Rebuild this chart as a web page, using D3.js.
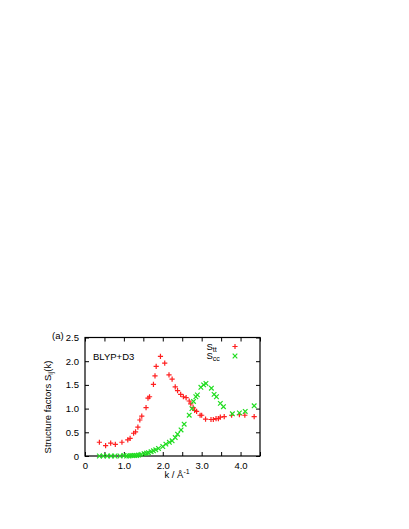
<!DOCTYPE html>
<html>
<head>
<meta charset="utf-8">
<script src="https://cdn.jsdelivr.net/npm/d3@7"></script>
<style>
  body { margin: 0; background: #fff; }
  svg text { font-family: "Liberation Sans", Arial, Helvetica, sans-serif; fill: #000; }
</style>
</head>
<body>
<div id="chart"></div>
<script>
// S_tt (red +) and S_cc (green x)
const kTT = [0.37, 0.53, 0.66, 0.78, 0.95, 1.10, 1.16, 1.25, 1.30, 1.36, 1.41, 1.46, 1.57, 1.62, 1.66,
    1.76, 1.80, 1.83, 1.94, 2.05, 2.16, 2.24, 2.32, 2.38, 2.46, 2.53, 2.60, 2.68, 2.72, 2.78, 2.82,
    2.87, 2.96, 3.00, 3.10, 3.24, 3.30, 3.37, 3.43, 3.48, 3.58, 3.77, 3.97, 4.11, 4.35];
const sTT = [0.29, 0.22, 0.27, 0.245, 0.29, 0.34, 0.37, 0.48, 0.51, 0.61, 0.76, 0.84, 1.02, 1.22, 1.25,
    1.51, 1.69, 1.89, 2.10, 1.96, 1.71, 1.62, 1.46, 1.38, 1.30, 1.25, 1.23, 1.16, 1.10, 1.02, 0.96,
    0.94, 0.86, 0.86, 0.78, 0.77, 0.77, 0.79, 0.79, 0.82, 0.83, 0.86, 0.87, 0.86, 0.83];

const kCC = [0.37, 0.47, 0.57, 0.67, 0.77, 0.90, 1.00, 1.07, 1.13, 1.18, 1.23, 1.28, 1.33, 1.38, 1.44,
    1.52, 1.58, 1.63, 1.70, 1.76, 1.82, 1.89, 2.00, 2.08, 2.17, 2.24, 2.32, 2.38, 2.47, 2.55, 2.68,
    2.75, 2.79, 2.85, 2.89, 2.98, 3.05, 3.11, 3.25, 3.32, 3.38, 3.48, 3.56, 3.79, 3.97, 4.12, 4.35];
const sCC = [0.00, 0.00, 0.00, 0.00, 0.00, 0.00, 0.01, 0.00, 0.00, 0.01, 0.01, 0.01, 0.01, 0.02, 0.03,
    0.05, 0.06, 0.07, 0.09, 0.11, 0.13, 0.16, 0.20, 0.25, 0.29, 0.32, 0.39, 0.46, 0.55, 0.67, 0.86,
    1.00, 1.15, 1.25, 1.29, 1.45, 1.50, 1.53, 1.43, 1.30, 1.25, 1.11, 1.04, 0.89, 0.91, 0.94, 1.06];

const xTicks = [0, 0.5, 1, 1.5, 2, 2.5, 3, 3.5, 4, 4.5];
const xTickLabels = ["0", "", "1.0", "", "2.0", "", "3.0", "", "4.0", ""];
const yTicks = [0, 0.5, 1, 1.5, 2, 2.5];
const yTickLabels = ["0", "0.5", "1.0", "1.5", "2.0", "2.5"];

const margin = {top: 337.5, right: 149, bottom: 73, left: 85},
    width = 409 - margin.left - margin.right,
    height = 529 - margin.top - margin.bottom;

const red = "#ff2020", green = "#20dd20";

const svg = d3.select("#chart")
    .append("svg")
    .attr("width", 409)
    .attr("height", 529);

const g = svg.append("g")
    .attr("transform", "translate(" + margin.left + "," + margin.top + ")");

const x = d3.scaleLinear().domain([0, 4.5]).range([0, width]);
const y = d3.scaleLinear().domain([0, 2.5]).range([height, 0]);

function styleAxis(sel) {
    sel.select(".domain").remove();
    sel.selectAll(".tick line").attr("stroke", "#000");
    sel.selectAll("text").style("font-size", "9.5px");
}

// bottom / top ticks point inward
g.append("g")
    .attr("transform", "translate(0," + height + ")")
    .call(d3.axisBottom(x).tickValues(xTicks).tickSize(-4).tickPadding(6)
        .tickFormat((d, i) => xTickLabels[i]))
    .call(styleAxis);
g.append("g")
    .call(d3.axisTop(x).tickValues(xTicks).tickSize(-4).tickFormat(""))
    .call(styleAxis);

g.append("g")
    .call(d3.axisLeft(y).tickValues(yTicks).tickSize(-4).tickPadding(6)
        .tickFormat((d, i) => yTickLabels[i]))
    .call(styleAxis);
g.append("g")
    .attr("transform", "translate(" + width + ",0)")
    .call(d3.axisRight(y).tickValues(yTicks).tickSize(-4).tickFormat(""))
    .call(styleAxis);

g.append("rect")
    .attr("width", width)
    .attr("height", height)
    .attr("fill", "none")
    .attr("stroke", "#000")
    .attr("stroke-width", 1.2);

const plus = "M-2.6,0H2.6M0,-2.6V2.6";
const cross = "M-2.3,-2.3L2.3,2.3M-2.3,2.3L2.3,-2.3";

g.selectAll(".ptt")
    .data(kTT.map((k, i) => ({k: k, s: sTT[i]})))
    .enter().append("path")
    .attr("class", "ptt")
    .attr("d", plus)
    .attr("transform", d => "translate(" + x(d.k) + "," + y(d.s) + ")")
    .attr("stroke", red)
    .attr("stroke-width", 1.2)
    .attr("fill", "none");

g.selectAll(".pcc")
    .data(kCC.map((k, i) => ({k: k, s: sCC[i]})))
    .enter().append("path")
    .attr("class", "pcc")
    .attr("d", cross)
    .attr("transform", d => "translate(" + x(d.k) + "," + y(d.s) + ")")
    .attr("stroke", green)
    .attr("stroke-width", 1.2)
    .attr("fill", "none");

// labels
svg.append("text")
    .attr("x", 52).attr("y", 339)
    .style("font-size", "9.5px")
    .text("(a)");

svg.append("text")
    .attr("x", 93).attr("y", 360)
    .style("font-size", "9.5px")
    .text("BLYP+D3");

const ylab = svg.append("text")
    .attr("transform", "translate(51,407) rotate(-90)")
    .attr("text-anchor", "middle")
    .style("font-size", "9.5px");
ylab.append("tspan").text("Structure factors S");
ylab.append("tspan").attr("dy", 2).style("font-size", "7px").text("ij");
ylab.append("tspan").attr("dy", -2).text("(k)");

const xlab = svg.append("text")
    .attr("x", 177).attr("y", 477.5)
    .attr("text-anchor", "middle")
    .style("font-size", "9.5px");
xlab.append("tspan").text("k / Å");
xlab.append("tspan").attr("dy", -4).style("font-size", "7px").text("-1");

// legend
const legend = [
    {name: "S", sub: "tt", color: red, shape: plus, y: 349.5},
    {name: "S", sub: "cc", color: green, shape: cross, y: 359}
];
legend.forEach(function (d) {
    const t = svg.append("text")
        .attr("x", 206.5).attr("y", d.y)
        .style("font-size", "9.5px");
    t.append("tspan").text(d.name);
    t.append("tspan").attr("dy", 2).style("font-size", "7px").text(d.sub);
    svg.append("path")
        .attr("d", d.shape)
        .attr("transform", "translate(235," + (d.y - 3) + ")")
        .attr("stroke", d.color)
        .attr("stroke-width", 1.2)
        .attr("fill", "none");
});
</script>
</body>
</html>
